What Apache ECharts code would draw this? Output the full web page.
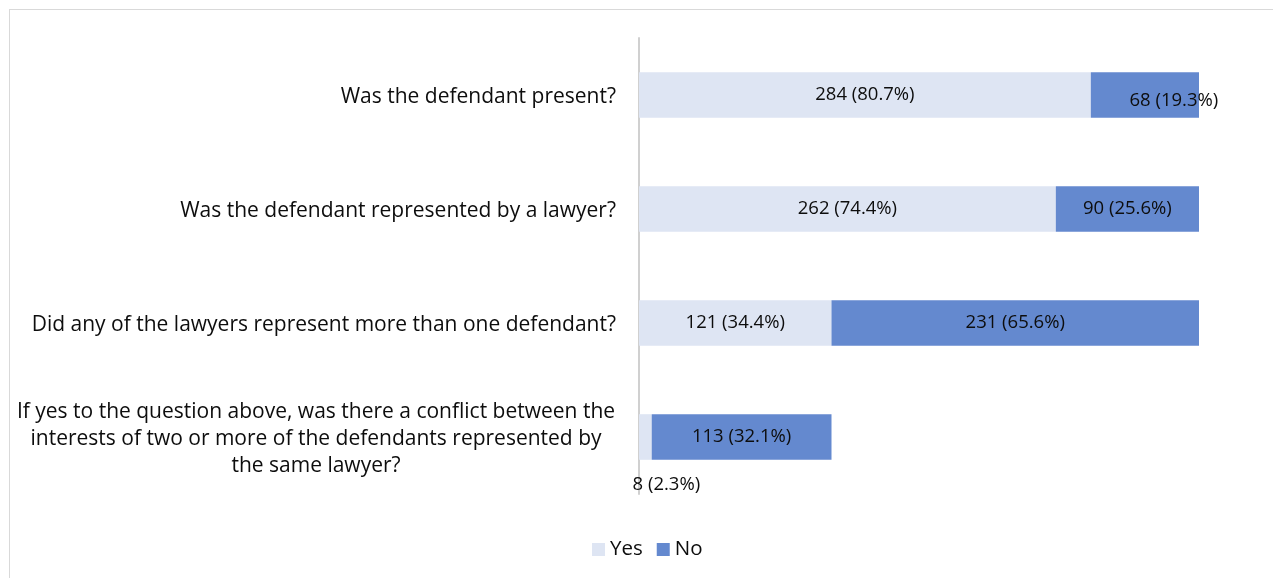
<!DOCTYPE html>
<html>
<head>
<meta charset="utf-8">
<script src="https://cdn.jsdelivr.net/npm/echarts@6/dist/echarts.min.js"></script>
<style>
  html, body { margin: 0; padding: 0; background: #fff; }
  #frame { position: absolute; left: 9px; top: 9px; width: 1280px; height: 600px;
           border: 1px solid #d9d9d9; box-sizing: border-box; }
  #chart { position: absolute; left: 0; top: 0; width: 1273px; height: 578px; }
</style>
</head>
<body>
<div id="frame"></div>
<div id="chart"></div>
<script>
// Court hearing questions and the Yes / No answer counts
const questions = [
  'Was the defendant present?',
  'Was the defendant represented by a lawyer?',
  'Did any of the lawyers represent more than one defendant?',
  'If yes to the question above, was there a conflict between the\ninterests of two or more of the defendants represented by\nthe same lawyer?'
];
const yesCounts = [284, 262, 121, 8];
const noCounts = [68, 90, 231, 113];
const yesPct = ['80.7', '74.4', '34.4', '2.3'];
const noPct = ['19.3', '25.6', '65.6', '32.1'];
const totalCases = 352;

const FONT = '"Open Sans", "Noto Sans", sans-serif';
const YES_COLOR = '#dee5f3';
const NO_COLOR = '#6489cf';
const TEXT_COLOR = '#0d0d0d';

const chart = echarts.init(document.getElementById('chart'), null, { renderer: 'canvas' });

const yesData = yesCounts.map((v, i) => {
  const d = { value: v, pct: yesPct[i] };
  if (i === 3) {
    // too narrow to hold its label, so it sits under the bar
    d.label = { position: 'inside', offset: [21, 48] };
  }
  return d;
});
const noData = noCounts.map((v, i) => {
  const d = { value: v, pct: noPct[i] };
  if (i === 0) {
    d.label = { offset: [29, 6] };
  }
  return d;
});

const labelStyle = {
  show: true,
  position: 'inside',
  color: TEXT_COLOR,
  fontFamily: FONT,
  fontSize: 18.5,
  padding: [3, 0, 0, 0],
  formatter: p => p.data.value + ' (' + p.data.pct + '%)'
};

chart.setOption({
  animation: false,
  textStyle: { fontFamily: FONT },
  grid: { left: 639, right: 74, top: 38, bottom: 84, containLabel: false },
  legend: {
    data: ['Yes', 'No'],
    left: 587,
    top: 534,
    itemWidth: 13,
    itemHeight: 13,
    itemGap: 14,
    icon: 'rect',
    textStyle: { color: TEXT_COLOR, fontFamily: FONT, fontSize: 20.5, padding: [0, 0, 0, 0] }
  },
  xAxis: {
    type: 'value',
    min: 0,
    max: totalCases,
    show: false
  },
  yAxis: {
    type: 'category',
    inverse: true,
    data: questions,
    axisLine: { show: true, lineStyle: { color: '#d0d0d0', width: 2 } },
    axisTick: { show: false },
    axisLabel: {
      margin: 23,
      color: TEXT_COLOR,
      fontFamily: FONT,
      fontSize: 21,
      lineHeight: 27,
      padding: [4, 0, 0, 0],
      formatter: v => v.indexOf('\n') >= 0
        ? v.split('\n').map(l => '{c|' + l + '}').join('\n')
        : v,
      rich: {
        c: { width: 600, align: 'center', fontFamily: FONT, fontSize: 21, lineHeight: 27, color: TEXT_COLOR }
      }
    }
  },
  series: [
    {
      name: 'Yes',
      type: 'bar',
      stack: 'answers',
      barWidth: '40%',
      itemStyle: { color: YES_COLOR },
      label: labelStyle,
      data: yesData
    },
    {
      name: 'No',
      type: 'bar',
      stack: 'answers',
      barWidth: '40%',
      itemStyle: { color: NO_COLOR },
      label: labelStyle,
      data: noData
    }
  ]
});
</script>
</body>
</html>
